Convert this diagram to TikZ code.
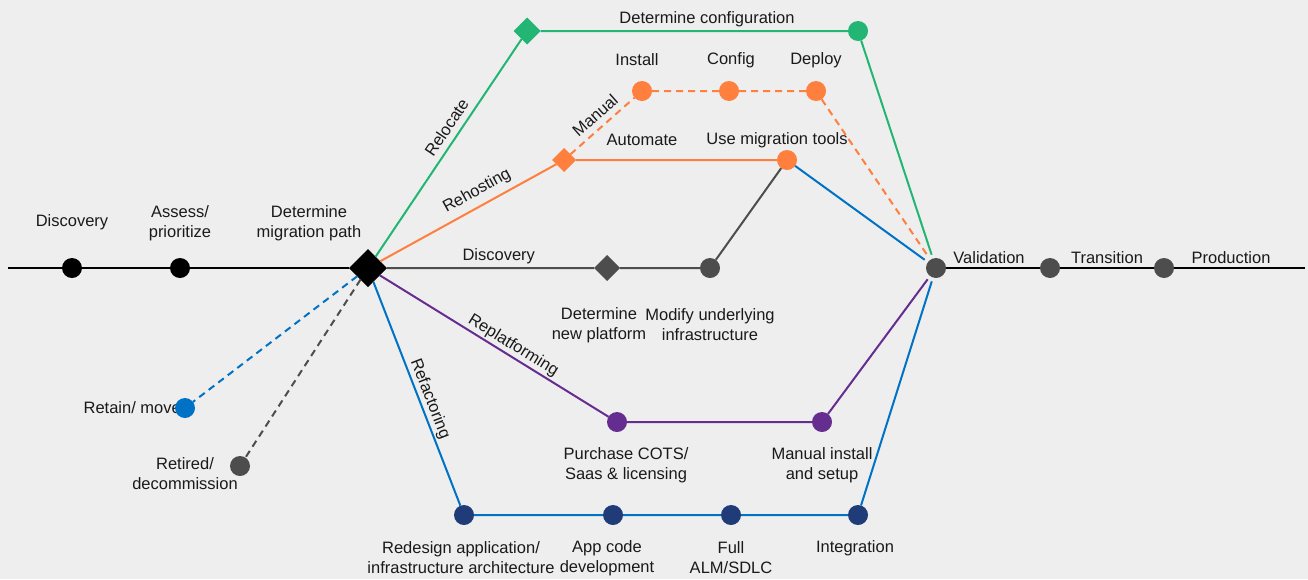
\documentclass[tikz,border=0pt]{standalone}
\usepackage{fontspec}
\setmainfont{Liberation Sans}
\usetikzlibrary{shapes.geometric}
\definecolor{bg color}{HTML}{EEEEEE}
\definecolor{text color}{HTML}{1A1A1A}
\definecolor{main}{HTML}{000000}
\definecolor{relocate}{HTML}{22B573}
\definecolor{rehost}{HTML}{FF7F3F}
\definecolor{neutral}{HTML}{4D4D4D}
\definecolor{retain}{HTML}{0072C6}
\definecolor{replatform}{HTML}{662D91}
\definecolor{navy}{HTML}{1F3B78}
\tikzset{
    x={1pt},
    y={-1pt},
    path line/.style={
        draw={#1},
        line width={2pt},
    },
    option line/.style={
        path line={#1},
        dash pattern=on 7pt off 5pt,
    },
    into validation/.style={
        shorten >={4pt},
    },
    stage/.style={
        circle, fill={#1},
        inner sep=0pt, outer sep=0pt,
        minimum size={20},
    },
    decision/.style 2 args={
        diamond, fill={#1},
        inner sep=0pt, outer sep=0pt,
        minimum size={#2},
    },
    stage label/.style={
        font={\fontsize{16.5}{20}\selectfont},
        text=text color,
        align=center,
        inner sep=0pt,
    },
    path label/.style={
        stage label,
        sloped, above,
        inner sep={#1},
    },
    path label/.default={6pt},
}

\begin{document}
\begin{tikzpicture}
% background
\path[fill=bg color, use as bounding box] (0,0) rectangle (1308,579);
% stages
\coordinate (start) at (8,268);
\coordinate (finish) at (1305,268);
\node[stage={main}] (discovery) at (72,268) {};
\node[stage={main}] (assess) at (180,268) {};
\node[decision={main}{38}] (migration path) at (368,268) {};
\node[decision={relocate}{27}] (relocate) at (527,31) {};
\node[stage={relocate}] (configuration) at (858,31) {};
\node[decision={rehost}{24}] (rehost) at (564,160) {};
\node[stage={rehost}] (install) at (642,91) {};
\node[stage={rehost}] (config) at (729,91) {};
\node[stage={rehost}] (deploy) at (816,91) {};
\node[stage={rehost}] (tools) at (787,160) {};
\node[decision={neutral}{26}] (new platform) at (607,268) {};
\node[stage={neutral}] (modify) at (710,268) {};
\node[stage={replatform}] (cots) at (617,422) {};
\node[stage={replatform}] (manual install) at (822,422) {};
\node[stage={navy}] (redesign) at (464,515) {};
\node[stage={navy}] (app code) at (613,515) {};
\node[stage={navy}] (alm) at (731,515) {};
\node[stage={navy}] (integration) at (858,515) {};
\node[stage label, anchor=east] (retain label) at (181,408) {Retain/ move};
\node[stage={retain}] (retain) at (185,408) {};
\node[stage={neutral}] (retired) at (240,466) {};
\node[stage={neutral}] (validation) at (936,268) {};
\node[stage={neutral}] (transition) at (1050,268) {};
\node[stage={neutral}] (production) at (1164,268) {};
% paths
\draw[path line={main}, line width={2.5pt}] (start) -- (discovery) -- (assess) -- (migration path);
\draw[path line={main}, line width={2.5pt}] (validation) -- (transition) -- (production) -- (finish);
\draw[path line={relocate}, into validation] (migration path) -- node[path label, pos=0.56] {Relocate} (relocate) -- (configuration) -- (validation);
\draw[path line={rehost}] (migration path) -- node[path label, pos=0.59] {Rehosting} (rehost) -- (tools);
\draw[option line={rehost}, into validation] (rehost) -- node[path label, pos=0.52] {Manual} (install) -- (config) -- (deploy) -- (validation);
\draw[path line={neutral}] (migration path) -- node[path label=3pt, pos=0.54] {Discovery} (new platform) -- (modify) -- (tools);
\draw[path line={retain}, into validation] (tools) -- (validation);
\draw[path line={replatform}, into validation] (migration path) -- node[path label=1.5pt, pos=0.56] {Replatforming} (cots) -- (manual install) -- (validation);
\draw[path line={retain}, into validation] (migration path) -- node[path label=1.5pt, pos=0.54] {Refactoring} (redesign) -- (app code) -- (alm) -- (integration) -- (validation);
\draw[option line={retain}] (migration path) -- (retain);
\draw[option line={neutral}] (migration path) -- (retired);
% labels
\node[stage label] (discovery label) at (72,222) {Discovery};
\node[stage label] (assess label) at (180,223) {Assess/\\prioritize};
\node[stage label] (path label) at (309,223) {Determine\\migration path};
\node[stage label] (configuration label) at (707,19) {Determine configuration};
\node[stage label] (install label) at (637,60) {Install};
\node[stage label] (config label) at (731,60) {Config};
\node[stage label] (deploy label) at (816,60) {Deploy};
\node[stage label] (automate label) at (642,140) {Automate};
\node[stage label] (tools label) at (777,140) {Use migration tools};
\node[stage label] (new platform label) at (599,325) {Determine\\new platform};
\node[stage label] (modify label) at (710,325) {Modify underlying\\infrastructure};
\node[stage label] (retired label) at (185,474) {Retired/\\decommission};
\node[stage label] (cots label) at (626,465) {Purchase COTS/\\Saas \& licensing};
\node[stage label] (manual install label) at (822,465) {Manual install\\and setup};
\node[stage label] (redesign label) at (461,558) {Redesign application/\\infrastructure architecture};
\node[stage label] (app code label) at (607,558) {App code\\development};
\node[stage label] (alm label) at (731,558) {Full\\ALM/SDLC};
\node[stage label] (integration label) at (855,548) {Integration};
\node[stage label] (validation label) at (989,258) {Validation};
\node[stage label] (transition label) at (1107,258) {Transition};
\node[stage label] (production label) at (1231,258) {Production};
\end{tikzpicture}
\end{document}
